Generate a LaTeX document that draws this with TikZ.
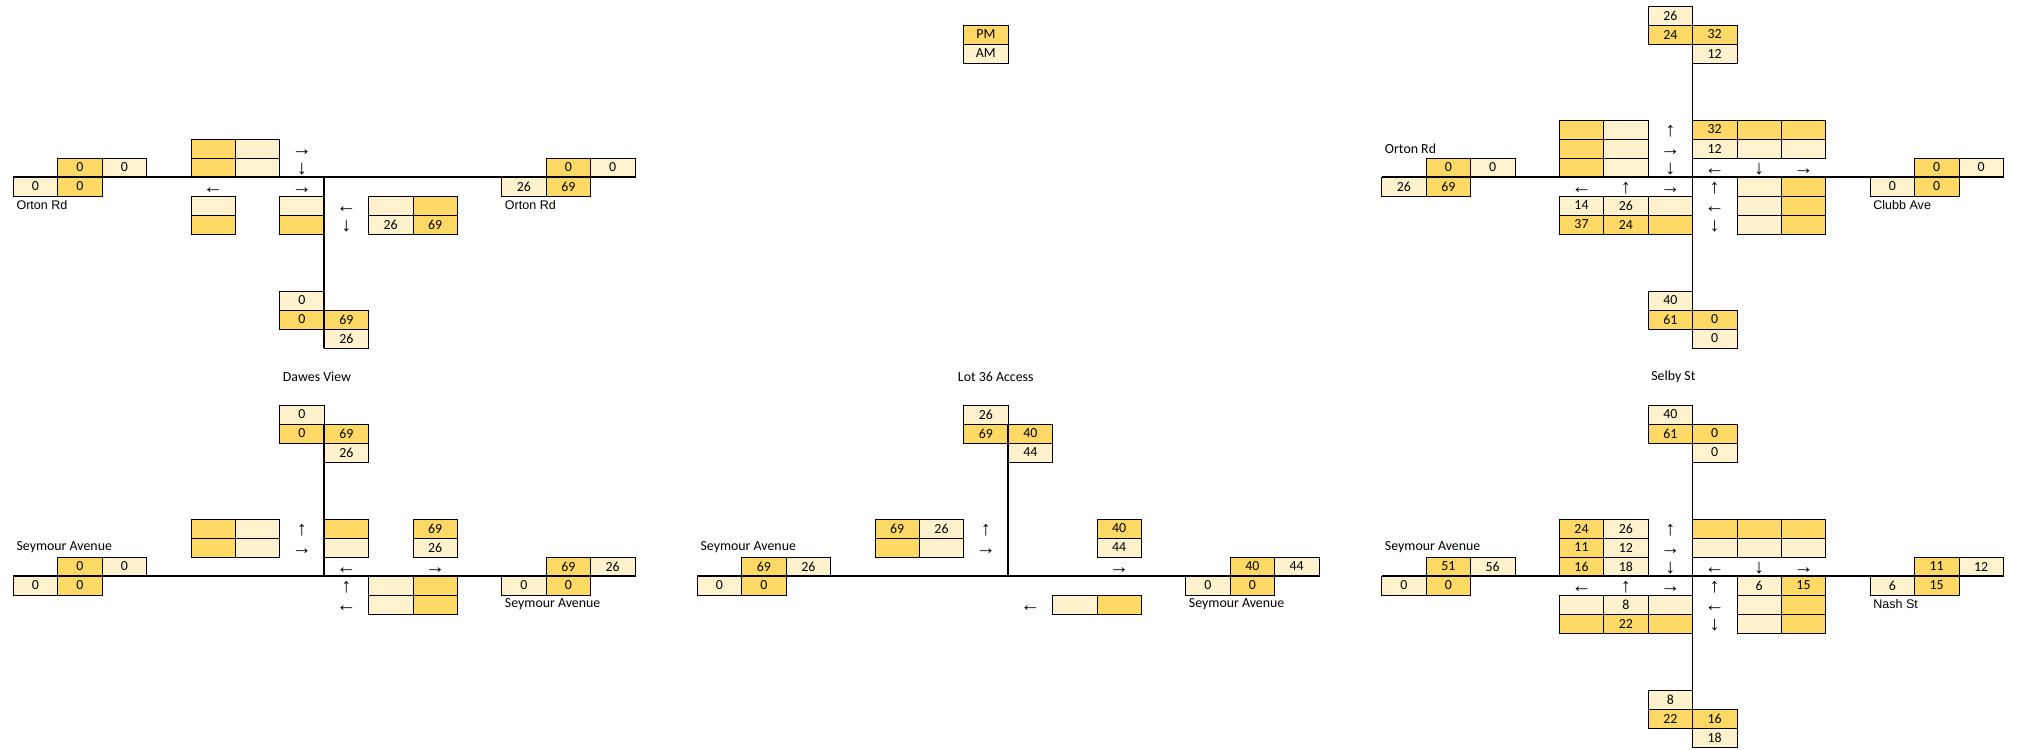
\documentclass[tikz,border=0pt]{standalone}
\usepackage{fontspec}
\setmainfont{Carlito}
\newfontfamily\arialf{Liberation Sans}
\definecolor{dkc}{HTML}{FFD966}
\definecolor{ltc}{HTML}{FFF2CC}
\tikzset{
  cellbase/.style={draw=black, line width=0.6pt, minimum width=33.3pt, minimum height=14.25pt,
    inner sep=0pt, outer sep=0pt, font=\fontsize{10.4}{12}\selectfont, anchor=center},
  dk/.style={cellbase, fill=dkc},
  lt/.style={cellbase, fill=ltc},
  arrowtxt/.style={inner sep=0pt, text height=10pt, text depth=0pt, font=\arialf\fontsize{15}{16}\selectfont},
  lblc/.style={anchor=west, inner sep=0pt, font=\fontsize{10.4}{12}\selectfont},
  lbla/.style={anchor=west, inner sep=0pt, font=\arialf\fontsize{9.4}{11}\selectfont},
  road/.style={line width=1pt, draw=black},
}
\newcommand\gp{A}
\newcommand\Dk[3]{\node[dk] (\gp d#1r#2) at ({(#1+0.5)*44.4},{6+19*(#2+0.5)}) {#3};}
\newcommand\Lt[3]{\node[lt] (\gp l#1r#2) at ({(#1+0.5)*44.4},{6+19*(#2+0.5)}) {#3};}
\newcommand\Ar[3]{\node[arrowtxt] (\gp a#1r#2) at ({(#1+0.5)*44.4},{6+19*(#2+0.5)}) {#3};}
\newcommand\Lc[3]{\node[lblc] (\gp t#1r#2) at ({#1*44.4+3},{6+19*(#2+0.5)}) {#3};}
\newcommand\La[3]{\node[lbla] (\gp t#1r#2) at ({#1*44.4+3},{6+19*(#2+0.5)}) {#3};}
\newcommand\Roads[3]{% #1 row of horizontal road, #2 top row of vertical, #3 bottom row edge
  \coordinate (\gp hw) at (0,{6+19*#1});
  \coordinate (\gp he) at ({14*44.4},{6+19*#1});
  \coordinate (\gp vn) at ({7*44.4},{6+19*#2});
  \coordinate (\gp vs) at ({7*44.4},{6+19*#3});
  \draw[road] (\gp hw) -- (\gp he);
  \draw[road] (\gp vn) -- (\gp vs);
}
\begin{document}
\begin{tikzpicture}[x=0.75pt, y=-0.75pt]
\path[use as bounding box, fill=white] (0,0) rectangle (2018,750);

% ---------------- Group A : top-left ----------------
\begin{scope}[shift={(13.3,0)}]
\renewcommand\gp{A}
\Dk{4}{7}{}\Lt{5}{7}{}\Ar{6}{7}{→}
\Dk{4}{8}{}\Lt{5}{8}{}\Ar{6}{8}{↓}
\Dk{1}{8}{0}\Lt{2}{8}{0}
\Lt{0}{9}{0}\Dk{1}{9}{0}
\Dk{12}{8}{0}\Lt{13}{8}{0}
\Lt{11}{9}{26}\Dk{12}{9}{69}
\Ar{4}{9}{←}\Ar{6}{9}{→}
\Lt{4}{10}{}\Dk{4}{11}{}
\Lt{6}{10}{}\Dk{6}{11}{}
\Ar{7}{10}{←}\Ar{7}{11}{↓}
\Lt{8}{10}{}\Dk{9}{10}{}
\Lt{8}{11}{26}\Dk{9}{11}{69}
\Lt{6}{15}{0}
\Dk{6}{16}{0}\Dk{7}{16}{69}
\Lt{7}{17}{26}
\La{0}{10}{Orton Rd}
\La{11}{10}{Orton Rd}
\Lc{6}{19}{Dawes View}
\Roads{9}{9}{18}
\end{scope}

% ---------------- Group B : bottom-left ----------------
\begin{scope}[shift={(13.3,0)}]
\renewcommand\gp{B}
\Lt{6}{21}{0}
\Dk{6}{22}{0}\Dk{7}{22}{69}
\Lt{7}{23}{26}
\Dk{4}{27}{}\Lt{5}{27}{}\Ar{6}{27}{↑}
\Dk{4}{28}{}\Lt{5}{28}{}\Ar{6}{28}{→}
\Dk{7}{27}{}\Lt{7}{28}{}
\Dk{9}{27}{69}\Lt{9}{28}{26}
\Ar{7}{29}{←}\Ar{9}{29}{→}
\Dk{1}{29}{0}\Lt{2}{29}{0}
\Lt{0}{30}{0}\Dk{1}{30}{0}
\Dk{12}{29}{69}\Lt{13}{29}{26}
\Lt{11}{30}{0}\Dk{12}{30}{0}
\Ar{7}{30}{↑}\Lt{8}{30}{}\Dk{9}{30}{}
\Ar{7}{31}{←}\Lt{8}{31}{}\Dk{9}{31}{}
\Lc{0}{28}{Seymour Avenue}
\Lc{11}{31}{Seymour Avenue}
\Roads{30}{22}{30}
\end{scope}

% ---------------- Group C : bottom-middle ----------------
\begin{scope}[shift={(697.3,0)}]
\renewcommand\gp{C}
\Dk{6}{1}{PM}
\Lt{6}{2}{AM}
\node[lblc] (Clot) at ({6*44.4-6},{6+19*19.5}) {Lot 36 Access};
\Lt{6}{21}{26}
\Dk{6}{22}{69}\Dk{7}{22}{40}
\Lt{7}{23}{44}
\Dk{4}{27}{69}\Lt{5}{27}{26}\Ar{6}{27}{↑}
\Dk{4}{28}{}\Lt{5}{28}{}\Ar{6}{28}{→}
\Dk{9}{27}{40}\Lt{9}{28}{44}
\Ar{9}{29}{→}
\Dk{1}{29}{69}\Lt{2}{29}{26}
\Lt{0}{30}{0}\Dk{1}{30}{0}
\Dk{12}{29}{40}\Lt{13}{29}{44}
\Lt{11}{30}{0}\Dk{12}{30}{0}
\Ar{7}{31}{←}\Lt{8}{31}{}\Dk{9}{31}{}
\Lc{0}{28}{Seymour Avenue}
\Lc{11}{31}{Seymour Avenue}
\Roads{30}{22}{30}
\end{scope}

% ---------------- Group D : top-right ----------------
\begin{scope}[shift={(1381.7,0)}]
\renewcommand\gp{D}
\Lt{6}{0}{26}
\Dk{6}{1}{24}\Dk{7}{1}{32}
\Lt{7}{2}{12}
\Dk{4}{6}{}\Lt{5}{6}{}\Ar{6}{6}{↑}
\Dk{4}{7}{}\Lt{5}{7}{}\Ar{6}{7}{→}
\Dk{4}{8}{}\Lt{5}{8}{}\Ar{6}{8}{↓}
\Dk{7}{6}{32}\Dk{8}{6}{}\Dk{9}{6}{}
\Lt{7}{7}{12}\Lt{8}{7}{}\Lt{9}{7}{}
\Ar{7}{8}{←}\Ar{8}{8}{↓}\Ar{9}{8}{→}
\Dk{1}{8}{0}\Lt{2}{8}{0}
\Lt{0}{9}{26}\Dk{1}{9}{69}
\Dk{12}{8}{0}\Lt{13}{8}{0}
\Lt{11}{9}{0}\Dk{12}{9}{0}
\Ar{4}{9}{←}\Ar{5}{9}{↑}\Ar{6}{9}{→}
\Lt{4}{10}{14}\Lt{5}{10}{26}\Lt{6}{10}{}
\Dk{4}{11}{37}\Dk{5}{11}{24}\Dk{6}{11}{}
\Ar{7}{9}{↑}\Lt{8}{9}{}\Dk{9}{9}{}
\Ar{7}{10}{←}\Lt{8}{10}{}\Dk{9}{10}{}
\Ar{7}{11}{↓}\Lt{8}{11}{}\Dk{9}{11}{}
\Lt{6}{15}{40}
\Dk{6}{16}{61}\Dk{7}{16}{0}
\Lt{7}{17}{0}
\Lc{0}{7}{Orton Rd}
\La{11}{10}{Clubb Ave}
\Lc{6}{19}{Selby St}
\Roads{9}{2}{18}
\end{scope}

% ---------------- Group E : bottom-right ----------------
\begin{scope}[shift={(1381.7,0)}]
\renewcommand\gp{E}
\Lt{6}{21}{40}
\Dk{6}{22}{61}\Dk{7}{22}{0}
\Lt{7}{23}{0}
\Dk{4}{27}{24}\Lt{5}{27}{26}\Ar{6}{27}{↑}
\Dk{4}{28}{11}\Lt{5}{28}{12}\Ar{6}{28}{→}
\Dk{4}{29}{16}\Lt{5}{29}{18}\Ar{6}{29}{↓}
\Dk{7}{27}{}\Dk{8}{27}{}\Dk{9}{27}{}
\Lt{7}{28}{}\Lt{8}{28}{}\Lt{9}{28}{}
\Ar{7}{29}{←}\Ar{8}{29}{↓}\Ar{9}{29}{→}
\Dk{1}{29}{51}\Lt{2}{29}{56}
\Lt{0}{30}{0}\Dk{1}{30}{0}
\Dk{12}{29}{11}\Lt{13}{29}{12}
\Lt{11}{30}{6}\Dk{12}{30}{15}
\Ar{4}{30}{←}\Ar{5}{30}{↑}\Ar{6}{30}{→}
\Lt{4}{31}{}\Lt{5}{31}{8}\Lt{6}{31}{}
\Dk{4}{32}{}\Dk{5}{32}{22}\Dk{6}{32}{}
\Ar{7}{30}{↑}\Lt{8}{30}{6}\Dk{9}{30}{15}
\Ar{7}{31}{←}\Lt{8}{31}{}\Dk{9}{31}{}
\Ar{7}{32}{↓}\Lt{8}{32}{}\Dk{9}{32}{}
\Lt{6}{36}{8}
\Dk{6}{37}{22}\Dk{7}{37}{16}
\Lt{7}{38}{18}
\Lc{0}{28}{Seymour Avenue}
\La{11}{31}{Nash St}
\Roads{30}{22}{39}
\end{scope}
\end{tikzpicture}
\end{document}
